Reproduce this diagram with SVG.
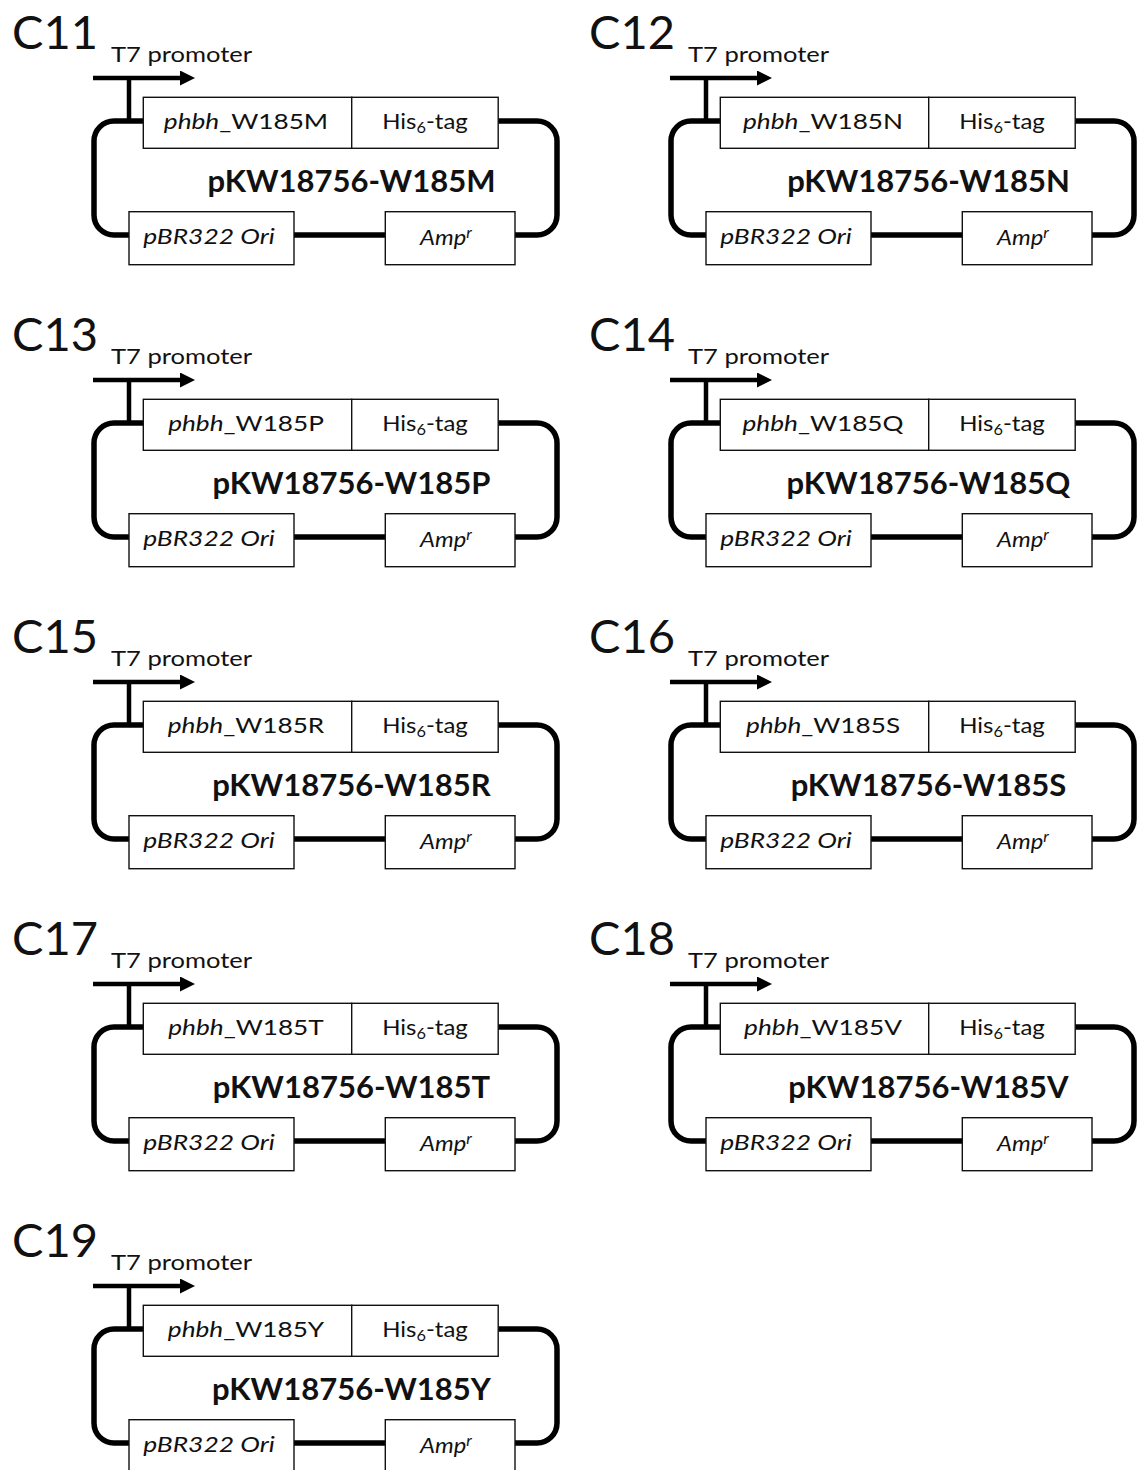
<svg xmlns="http://www.w3.org/2000/svg" width="1140" height="1470" viewBox="0 0 1140 1470">
<style>
text{font-family:Lato,"Open Sans","Liberation Sans",sans-serif;fill:#111}
.lbl{font-size:47px}
.prom{font-size:22px}
.bt{font-size:22px;text-anchor:middle}
.it{font-style:italic}
.ttl{font-size:30px;font-weight:bold;text-anchor:middle}
.box{fill:#fff;stroke:#111;stroke-width:1.4}
.thick{fill:none;stroke:#000;stroke-width:5.5}
.arw{fill:none;stroke:#000;stroke-width:4.5}
</style>
<defs>
<marker id="ah" markerUnits="userSpaceOnUse" markerWidth="15" markerHeight="15" viewBox="0 0 15 15" refX="0" refY="7.5" orient="auto"><path d="M0,0L15,7.5L0,15z" fill="#000"/></marker>
<g id="links">
<path class="arw" d="M93,78H180" marker-end="url(#ah)"/>
<path class="arw" d="M129,78V121"/>
<path class="thick" d="M143,121H114A20,20 0 0 0 94,141V215A20,20 0 0 0 114,235H129"/>
<path class="thick" d="M294,235H386"/>
<path class="thick" d="M498,121H537A20,20 0 0 1 557,141V215A20,20 0 0 1 537,235H515"/>
</g>
<g id="common">
<rect class="box" x="351.7" y="97.3" width="146.5" height="51"/>
<text class="bt" transform="translate(425,129.3) scale(1.09,1)">His<tspan font-size="15" dy="4">6</tspan><tspan dy="-4">-tag</tspan></text>
<rect class="box" x="129" y="211.7" width="165" height="53"/>
<text class="bt it" transform="translate(209,244) scale(1.2,1)">pBR322 Ori</text>
<rect class="box" x="385.3" y="211.7" width="129.7" height="53"/>
<text class="bt it" transform="translate(446,245) scale(1.08,1)">Amp<tspan font-size="15" dy="-7">r</tspan></text>
</g>
</defs>

<g id="panel-C11" transform="translate(0,0)">
<g id="C11-connectors"><use href="#links"/></g>
<text class="lbl" x="12" y="49">C11</text>
<text class="prom" x="111" y="62" textLength="141" lengthAdjust="spacingAndGlyphs">T7 promoter</text>
<g id="C11-phbh"><rect class="box" x="143.3" y="97.3" width="208.4" height="51"/><text class="bt" transform="translate(246,129.3) scale(1.19,1)"><tspan class="it">phbh</tspan>_W185M</text></g>
<g id="C11-parts"><use href="#common"/></g>
<text class="ttl" transform="translate(351.5,191.7) scale(1.035,1)">pKW18756-W185M</text>
</g>

<g id="panel-C12" transform="translate(577,0)">
<g id="C12-connectors"><use href="#links"/></g>
<text class="lbl" x="12" y="49">C12</text>
<text class="prom" x="111" y="62" textLength="141" lengthAdjust="spacingAndGlyphs">T7 promoter</text>
<g id="C12-phbh"><rect class="box" x="143.3" y="97.3" width="208.4" height="51"/><text class="bt" transform="translate(246,129.3) scale(1.19,1)"><tspan class="it">phbh</tspan>_W185N</text></g>
<g id="C12-parts"><use href="#common"/></g>
<text class="ttl" transform="translate(351.5,191.7) scale(1.035,1)">pKW18756-W185N</text>
</g>

<g id="panel-C13" transform="translate(0,302)">
<g id="C13-connectors"><use href="#links"/></g>
<text class="lbl" x="12" y="49">C13</text>
<text class="prom" x="111" y="62" textLength="141" lengthAdjust="spacingAndGlyphs">T7 promoter</text>
<g id="C13-phbh"><rect class="box" x="143.3" y="97.3" width="208.4" height="51"/><text class="bt" transform="translate(246,129.3) scale(1.19,1)"><tspan class="it">phbh</tspan>_W185P</text></g>
<g id="C13-parts"><use href="#common"/></g>
<text class="ttl" transform="translate(351.5,191.7) scale(1.035,1)">pKW18756-W185P</text>
</g>

<g id="panel-C14" transform="translate(577,302)">
<g id="C14-connectors"><use href="#links"/></g>
<text class="lbl" x="12" y="49">C14</text>
<text class="prom" x="111" y="62" textLength="141" lengthAdjust="spacingAndGlyphs">T7 promoter</text>
<g id="C14-phbh"><rect class="box" x="143.3" y="97.3" width="208.4" height="51"/><text class="bt" transform="translate(246,129.3) scale(1.19,1)"><tspan class="it">phbh</tspan>_W185Q</text></g>
<g id="C14-parts"><use href="#common"/></g>
<text class="ttl" transform="translate(351.5,191.7) scale(1.035,1)">pKW18756-W185Q</text>
</g>

<g id="panel-C15" transform="translate(0,604)">
<g id="C15-connectors"><use href="#links"/></g>
<text class="lbl" x="12" y="49">C15</text>
<text class="prom" x="111" y="62" textLength="141" lengthAdjust="spacingAndGlyphs">T7 promoter</text>
<g id="C15-phbh"><rect class="box" x="143.3" y="97.3" width="208.4" height="51"/><text class="bt" transform="translate(246,129.3) scale(1.19,1)"><tspan class="it">phbh</tspan>_W185R</text></g>
<g id="C15-parts"><use href="#common"/></g>
<text class="ttl" transform="translate(351.5,191.7) scale(1.035,1)">pKW18756-W185R</text>
</g>

<g id="panel-C16" transform="translate(577,604)">
<g id="C16-connectors"><use href="#links"/></g>
<text class="lbl" x="12" y="49">C16</text>
<text class="prom" x="111" y="62" textLength="141" lengthAdjust="spacingAndGlyphs">T7 promoter</text>
<g id="C16-phbh"><rect class="box" x="143.3" y="97.3" width="208.4" height="51"/><text class="bt" transform="translate(246,129.3) scale(1.19,1)"><tspan class="it">phbh</tspan>_W185S</text></g>
<g id="C16-parts"><use href="#common"/></g>
<text class="ttl" transform="translate(351.5,191.7) scale(1.035,1)">pKW18756-W185S</text>
</g>

<g id="panel-C17" transform="translate(0,906)">
<g id="C17-connectors"><use href="#links"/></g>
<text class="lbl" x="12" y="49">C17</text>
<text class="prom" x="111" y="62" textLength="141" lengthAdjust="spacingAndGlyphs">T7 promoter</text>
<g id="C17-phbh"><rect class="box" x="143.3" y="97.3" width="208.4" height="51"/><text class="bt" transform="translate(246,129.3) scale(1.19,1)"><tspan class="it">phbh</tspan>_W185T</text></g>
<g id="C17-parts"><use href="#common"/></g>
<text class="ttl" transform="translate(351.5,191.7) scale(1.035,1)">pKW18756-W185T</text>
</g>

<g id="panel-C18" transform="translate(577,906)">
<g id="C18-connectors"><use href="#links"/></g>
<text class="lbl" x="12" y="49">C18</text>
<text class="prom" x="111" y="62" textLength="141" lengthAdjust="spacingAndGlyphs">T7 promoter</text>
<g id="C18-phbh"><rect class="box" x="143.3" y="97.3" width="208.4" height="51"/><text class="bt" transform="translate(246,129.3) scale(1.19,1)"><tspan class="it">phbh</tspan>_W185V</text></g>
<g id="C18-parts"><use href="#common"/></g>
<text class="ttl" transform="translate(351.5,191.7) scale(1.035,1)">pKW18756-W185V</text>
</g>

<g id="panel-C19" transform="translate(0,1208)">
<g id="C19-connectors"><use href="#links"/></g>
<text class="lbl" x="12" y="49">C19</text>
<text class="prom" x="111" y="62" textLength="141" lengthAdjust="spacingAndGlyphs">T7 promoter</text>
<g id="C19-phbh"><rect class="box" x="143.3" y="97.3" width="208.4" height="51"/><text class="bt" transform="translate(246,129.3) scale(1.19,1)"><tspan class="it">phbh</tspan>_W185Y</text></g>
<g id="C19-parts"><use href="#common"/></g>
<text class="ttl" transform="translate(351.5,191.7) scale(1.035,1)">pKW18756-W185Y</text>
</g>
</svg>
